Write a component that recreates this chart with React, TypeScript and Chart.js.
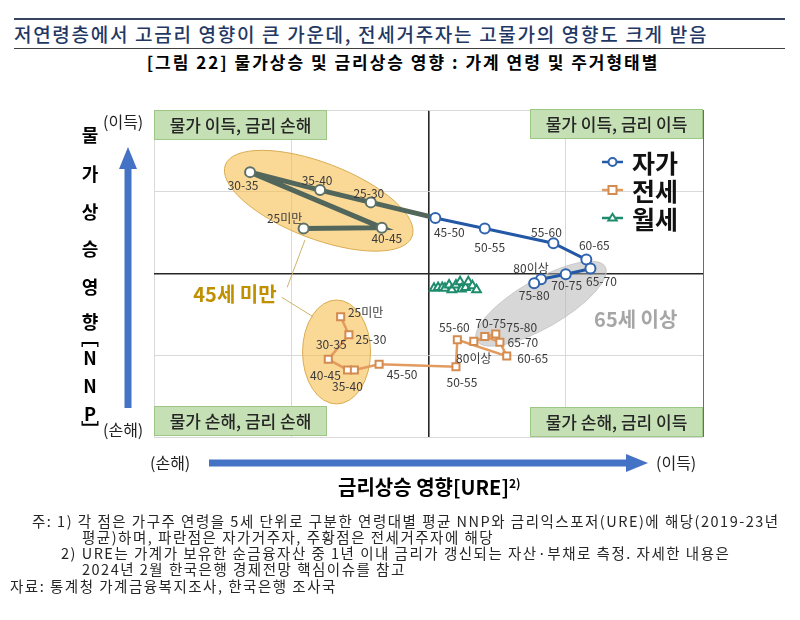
import React, { useEffect, useRef } from "react";
import { Chart, registerables } from "chart.js";

Chart.register(...registerables);

const KR = '"Noto Sans CJK KR", "Noto Sans", sans-serif';

// ---------------- data ----------------
// 자가 (owner-occupied), in the order the line is drawn
const ownerLabels = ["25미만", "40-45", "30-35", "35-40", "25-30", "45-50", "50-55", "55-60", "60-65", "65-70", "70-75", "80이상", "75-80"];
const ownerX = [-0.91, -0.34, -1.3, -0.79, -0.42, 0.05, 0.41, 0.91, 1.15, 1.18, 1.0, 0.82, 0.77];
const ownerY = [0.55, 0.56, 1.24, 1.02, 0.87, 0.68, 0.55, 0.37, 0.17, 0.06, -0.01, -0.07, -0.12];

// 전세 (jeonse)
const jeonseLabels = ["25미만", "25-30", "30-35", "40-45", "35-40", "45-50", "50-55", "55-60", "60-65", "65-70", "70-75", "75-80", "80이상"];
const jeonseX = [-0.64, -0.58, -0.73, -0.59, -0.54, -0.36, 0.2, 0.21, 0.57, 0.52, 0.41, 0.49, 0.33];
const jeonseY = [-0.53, -0.75, -1.05, -1.18, -1.18, -1.11, -1.14, -0.81, -1.01, -0.84, -0.77, -0.74, -0.83];

// 월세 (monthly rent)
const wolseX = [0.04, 0.07, 0.1, 0.12, 0.15, 0.17, 0.2, 0.23, 0.24, 0.27, 0.29, 0.32, 0.35];
const wolseY = [-0.18, -0.17, -0.17, -0.18, -0.14, -0.2, -0.14, -0.1, -0.19, -0.17, -0.1, -0.15, -0.2];

const legendLabels = ["자가", "전세", "월세"];
const quadrantLabels = ["물가 이득, 금리 손해", "물가 이득, 금리 이득", "물가 손해, 금리 손해", "물가 손해, 금리 이득"];
const groupLabels = ["45세 미만", "65세 이상"];
const axisMin = -2;
const axisMax = 2;

// ---------------- styling ----------------
const BLUE_LINE = "#2358a6";
const BLUE_PT = "#2f63ad";
const GREY_LINE = "#52665c";
const ORANGE_LINE = "#e39a5e";
const ORANGE_PT = "#d48b4f";
const GREEN = "#1e8c6c";
const GREY_SEGMENT_END = 5; // first segments of 자가 line drawn grey

const ownerLabelOffsets: number[][] = [[-19, -10], [5, 11], [-7, 13], [-3, -10], [-2, -9], [14, 15], [5, 19], [-7, -11], [8, -14], [11, 13], [1, 11], [-10, -11], [0, 12]];
const jeonseLabelOffsets: number[][] = [[25, -4], [22, 5], [3, -15], [-22, 5], [-7, 16], [23, 10], [6, 16], [-3, -12], [26, 2], [23, 0], [6, -13], [26, -7], [0, 17]];

// annotation ellipses: centre in data units, radii in px, rotation in degrees
const ellipses = [
  { cx: -0.8, cy: 0.89, rx: 100, ry: 38, rot: 21, fill: "rgba(246,190,80,0.6)", stroke: "#d9ac52" },
  { cx: -0.67, cy: -0.96, rx: 34, ry: 52, rot: 0, fill: "rgba(246,190,80,0.6)", stroke: "#d9ac52" },
  { cx: 0.82, cy: -0.37, rx: 74, ry: 24, rot: -30, fill: "rgba(175,175,175,0.5)", stroke: "#c8c8c8" },
];

function drawMarker(ctx: CanvasRenderingContext2D, style: string, x: number, y: number, r: number, stroke: string) {
  ctx.save();
  ctx.beginPath();
  if (style === "circle") {
    ctx.arc(x, y, r, 0, Math.PI * 2);
  } else if (style === "rect") {
    ctx.rect(x - r, y - r, 2 * r, 2 * r);
  } else {
    const h = r * 1.7;
    ctx.moveTo(x, y - h * 0.62);
    ctx.lineTo(x + r * 1.05, y + h * 0.38);
    ctx.lineTo(x - r * 1.05, y + h * 0.38);
    ctx.closePath();
  }
  ctx.fillStyle = "#fff";
  ctx.fill();
  ctx.lineWidth = 2;
  ctx.strokeStyle = stroke;
  ctx.stroke();
  ctx.restore();
}

function drawArrow(ctx: CanvasRenderingContext2D, x1: number, y1: number, x2: number, y2: number, color: string) {
  const shaft = 7, headW = 18, headL = 22;
  const ang = Math.atan2(y2 - y1, x2 - x1);
  const len = Math.hypot(x2 - x1, y2 - y1);
  ctx.save();
  ctx.translate(x1, y1);
  ctx.rotate(ang);
  ctx.beginPath();
  ctx.moveTo(0, -shaft / 2);
  ctx.lineTo(len - headL, -shaft / 2);
  ctx.lineTo(len - headL, -headW / 2);
  ctx.lineTo(len, 0);
  ctx.lineTo(len - headL, headW / 2);
  ctx.lineTo(len - headL, shaft / 2);
  ctx.lineTo(0, shaft / 2);
  ctx.closePath();
  ctx.fillStyle = color;
  ctx.fill();
  ctx.restore();
}

const annotPlugin = {
  id: "annot",
  beforeDatasetsDraw(chart: any) {
    const { ctx, scales } = chart;
    const xs = scales.x, ys = scales.y;
    ellipses.forEach((e) => {
      ctx.save();
      ctx.beginPath();
      ctx.ellipse(xs.getPixelForValue(e.cx), ys.getPixelForValue(e.cy), e.rx, e.ry, (e.rot * Math.PI) / 180, 0, Math.PI * 2);
      ctx.fillStyle = e.fill;
      ctx.fill();
      ctx.lineWidth = 1;
      ctx.strokeStyle = e.stroke;
      ctx.stroke();
      ctx.restore();
    });
    // connector lines from "45세 미만" label to both ellipses
    const conns = [
      [-0.9, 0.41, -1.03, -0.17],
      [-1.07, -0.29, -0.84, -0.53],
    ];
    ctx.save();
    ctx.strokeStyle = "#cdb46a";
    ctx.lineWidth = 1;
    conns.forEach((c) => {
      ctx.beginPath();
      ctx.moveTo(xs.getPixelForValue(c[0]), ys.getPixelForValue(c[1]));
      ctx.lineTo(xs.getPixelForValue(c[2]), ys.getPixelForValue(c[3]));
      ctx.stroke();
    });
    ctx.restore();
  },
  afterDatasetsDraw(chart: any) {
    const { ctx, chartArea: ca, scales } = chart;
    const xs = scales.x, ys = scales.y;
    // point labels
    ctx.save();
    ctx.font = `12px ${KR}`;
    ctx.fillStyle = "#3a3a3a";
    ctx.textAlign = "center";
    ctx.textBaseline = "middle";
    ownerLabels.forEach((l, i) => {
      ctx.fillText(l, xs.getPixelForValue(ownerX[i]) + ownerLabelOffsets[i][0], ys.getPixelForValue(ownerY[i]) + ownerLabelOffsets[i][1]);
    });
    jeonseLabels.forEach((l, i) => {
      ctx.fillText(l, xs.getPixelForValue(jeonseX[i]) + jeonseLabelOffsets[i][0], ys.getPixelForValue(jeonseY[i]) + jeonseLabelOffsets[i][1]);
    });
    // group labels
    ctx.font = `bold 20px ${KR}`;
    ctx.fillStyle = "#bf9000";
    ctx.fillText(groupLabels[0], xs.getPixelForValue(-1.41), ys.getPixelForValue(-0.25));
    ctx.fillStyle = "#a6a6a6";
    ctx.fillText(groupLabels[1], xs.getPixelForValue(1.51), ys.getPixelForValue(-0.56));
    ctx.restore();

    // quadrant boxes
    const bw = 173, bh = 30;
    const boxes = [
      [ca.left, ca.top],
      [ca.right - bw, ca.top - 1],
      [ca.left, ca.bottom - bh - 1],
      [ca.right - bw, ca.bottom - bh],
    ];
    ctx.save();
    boxes.forEach((b, i) => {
      ctx.fillStyle = "#c5e0b4";
      ctx.fillRect(b[0], b[1], bw, bh);
      ctx.strokeStyle = "#9cc785";
      ctx.lineWidth = 1;
      ctx.strokeRect(b[0] + 0.5, b[1] + 0.5, bw - 1, bh - 1);
      ctx.fillStyle = "#262626";
      ctx.font = `500 17px ${KR}`;
      ctx.textAlign = "center";
      ctx.textBaseline = "middle";
      ctx.fillText(quadrantLabels[i], b[0] + bw / 2, b[1] + bh / 2 + 1);
    });
    ctx.restore();

    // legend
    const lx = ca.right - 101;
    const ly0 = ca.top + 52;
    const items = [
      { line: BLUE_LINE, pt: BLUE_PT, style: "circle" },
      { line: ORANGE_LINE, pt: ORANGE_PT, style: "rect" },
      { line: GREEN, pt: GREEN, style: "triangle" },
    ];
    ctx.save();
    items.forEach((it, i) => {
      const y = ly0 + i * 28;
      ctx.strokeStyle = it.line;
      ctx.lineWidth = 2.5;
      ctx.beginPath();
      ctx.moveTo(lx, y);
      ctx.lineTo(lx + 21, y);
      ctx.stroke();
      drawMarker(ctx, it.style, lx + 10.5, y, 4, it.pt);
      ctx.fillStyle = "#111";
      ctx.font = `bold 25px ${KR}`;
      ctx.textAlign = "left";
      ctx.textBaseline = "middle";
      ctx.fillText(legendLabels[i], lx + 30, y + 1);
    });
    ctx.restore();

    // axis arrows
    drawArrow(ctx, ca.left - 26, ca.bottom - 29, ca.left - 26, ca.top + 37, "#4472c4");
    drawArrow(ctx, ca.left + 55, ca.bottom + 26, ca.right - 55, ca.bottom + 26, "#4472c4");
  },
};

function Txt(props: { x: number; y: number; size: number; weight?: number | string; color?: string; center?: boolean; ls?: number; children: any }) {
  const { x, y, size, weight = 400, color = "#000", center, ls = 0, children } = props;
  return (
    <div
      style={{
        position: "absolute",
        left: x,
        top: y - size * 0.6,
        fontSize: size,
        lineHeight: `${size * 1.2}px`,
        fontWeight: weight as any,
        color,
        whiteSpace: "nowrap",
        fontFamily: KR,
        letterSpacing: ls,
        transform: center ? "translateX(-50%)" : undefined,
      }}
    >
      {children}
    </div>
  );
}

const yTitleChars = ["물", "가", "상", "승", "영", "향", "﹇", "N", "N", "P", "﹈"];
const yTitleY = [135, 174, 212, 249, 287, 322, 338, 358, 386, 414, 430];

export default function App() {
  const ref = useRef<HTMLCanvasElement>(null);

  useEffect(() => {
    const gridColor = (isX: boolean) => (c: any) => {
      const v = c.tick && c.tick.value;
      if (v === 0) return "#262626";
      if (isX && v === axisMax) return "#6b6b6b";
      return "#d9d9d9";
    };
    const gridWidth = (c: any) => (c.tick && c.tick.value === 0 ? 1.6 : 1);
    const chart = new Chart(ref.current as HTMLCanvasElement, {
      type: "scatter",
      data: {
        datasets: [
          {
            label: legendLabels[0],
            data: ownerX.map((v, i) => ({ x: v, y: ownerY[i] })),
            showLine: true,
            borderColor: BLUE_LINE,
            borderWidth: 3,
            pointStyle: "circle",
            pointRadius: 5,
            pointBorderWidth: 2,
            pointBackgroundColor: "#ffffff",
            pointBorderColor: ownerX.map((_, i) => (i < GREY_SEGMENT_END ? "#5d7066" : BLUE_PT)),
            segment: {
              borderColor: (c: any) => (c.p0DataIndex < GREY_SEGMENT_END ? GREY_LINE : BLUE_LINE),
              borderWidth: (c: any) => (c.p0DataIndex < GREY_SEGMENT_END ? 5 : 3),
            },
          } as any,
          {
            label: legendLabels[1],
            data: jeonseX.map((v, i) => ({ x: v, y: jeonseY[i] })),
            showLine: true,
            borderColor: ORANGE_LINE,
            borderWidth: 2.5,
            pointStyle: "rect",
            pointRadius: 5,
            pointBorderWidth: 2,
            pointBackgroundColor: "#ffffff",
            pointBorderColor: ORANGE_PT,
          },
          {
            label: legendLabels[2],
            data: wolseX.map((v, i) => ({ x: v, y: wolseY[i] })),
            showLine: true,
            borderColor: GREEN,
            borderWidth: 2.5,
            pointStyle: "triangle",
            pointRadius: 5,
            pointBorderWidth: 2,
            pointBackgroundColor: "#ffffff",
            pointBorderColor: GREEN,
          },
        ],
      },
      options: {
        responsive: false,
        animation: false,
        events: [],
        layout: { padding: { left: 154, top: 110, right: 97, bottom: 183 } },
        plugins: { legend: { display: false }, tooltip: { enabled: false } },
        scales: {
          x: {
            type: "linear",
            min: axisMin,
            max: axisMax,
            ticks: { display: false, stepSize: 1 },
            grid: { color: gridColor(true), lineWidth: gridWidth, drawTicks: false },
            border: { display: false },
          },
          y: {
            type: "linear",
            min: axisMin,
            max: axisMax,
            ticks: { display: false, stepSize: 1 },
            grid: { color: gridColor(false), lineWidth: gridWidth, drawTicks: false },
            border: { display: false },
          },
        },
      },
      plugins: [annotPlugin],
    });
    return () => chart.destroy();
  }, []);

  return (
    <div style={{ position: "absolute", left: 0, top: 0, width: 800, height: 620, background: "#fff", overflow: "hidden", fontFamily: KR }}>
      <div style={{ position: "absolute", left: 14, top: 18, width: 771, height: 2, background: "#364560" }} />
      <Txt x={14} y={34} size={19} weight={500} color="#1f3864" ls={1.7}>
        저연령층에서 고금리 영향이 큰 가운데, 전세거주자는 고물가의 영향도 크게 받음
      </Txt>
      <div style={{ position: "absolute", left: 14, top: 48, width: 771, height: 1, background: "#404040" }} />
      <Txt x={403} y={62} size={17} weight={700} center ls={2}>
        [그림 22] 물가상승 및 금리상승 영향 : 가계 연령 및 주거형태별
      </Txt>

      <canvas ref={ref} width={800} height={620} style={{ position: "absolute", left: 0, top: 0 }} />

      {yTitleChars.map((c, i) => (
        <Txt key={i} x={90} y={yTitleY[i]} size={18} weight={700} center>
          {c}
        </Txt>
      ))}
      <Txt x={103} y={122} size={16} color="#222">(이득)</Txt>
      <Txt x={103} y={430} size={16} color="#222">(손해)</Txt>
      <Txt x={150} y={463} size={16} color="#222">(손해)</Txt>
      <Txt x={656} y={463} size={16} color="#222">(이득)</Txt>
      <Txt x={338} y={487} size={20} weight={700}>
        금리상승 영향[URE]<sup style={{ fontSize: 12, verticalAlign: "top", position: "relative", top: -4 }}>2)</sup>
      </Txt>

      <Txt x={32} y={521} size={14.5} color="#262626" ls={1.5}>주: 1) 각 점은 가구주 연령을 5세 단위로 구분한 연령대별 평균 NNP와 금리익스포저(URE)에 해당(2019-23년</Txt>
      <Txt x={82} y={537} size={14.5} color="#262626" ls={1.5}>평균)하며, 파란점은 자가거주자, 주황점은 전세거주자에 해당</Txt>
      <Txt x={61} y={553} size={14.5} color="#262626" ls={1.5}>2) URE는 가계가 보유한 순금융자산 중 1년 이내 금리가 갱신되는 자산·부채로 측정. 자세한 내용은</Txt>
      <Txt x={82} y={569} size={14.5} color="#262626" ls={1.5}>2024년 2월 한국은행 경제전망 핵심이슈를 참고</Txt>
      <Txt x={10} y={586} size={14.5} color="#262626" ls={1.5}>자료: 통계청 가계금융복지조사, 한국은행 조사국</Txt>
    </div>
  );
}
